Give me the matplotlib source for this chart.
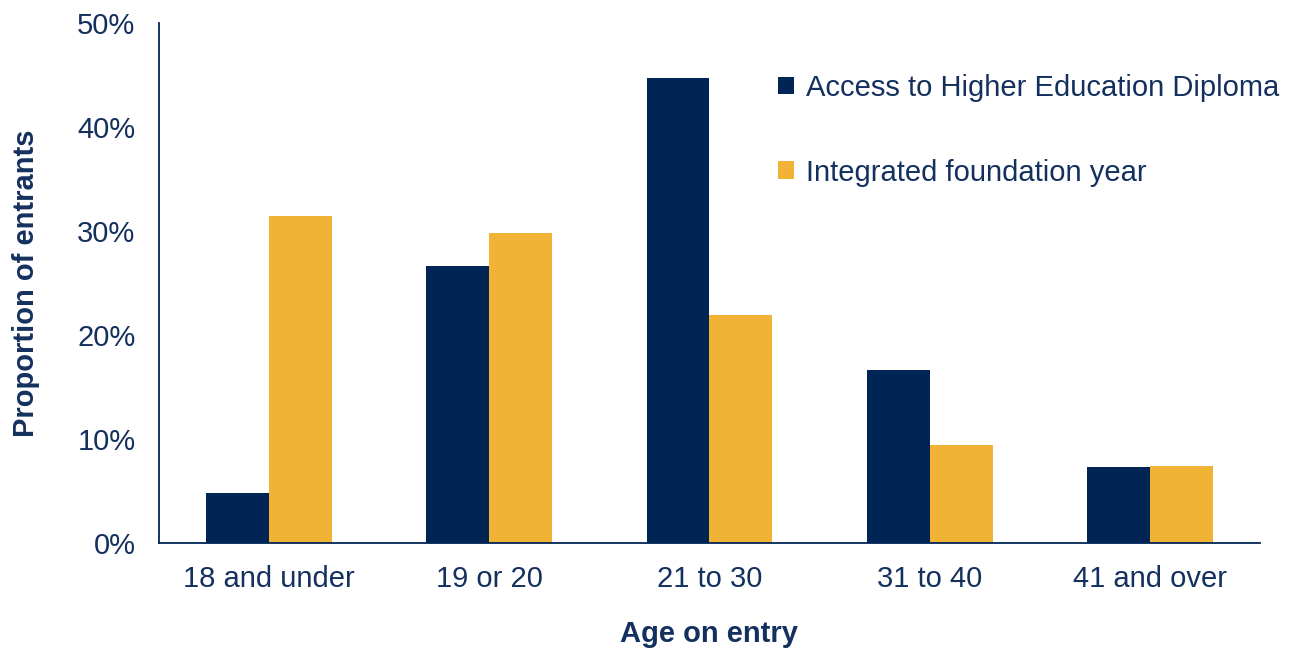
import numpy as np
import matplotlib.pyplot as plt
from matplotlib.ticker import PercentFormatter

# Age on entry, proportion of entrants (%)
categorii = ["18 and under", "19 or 20", "21 to 30", "31 to 40", "41 and over"]
access_he = [4.8, 26.6, 44.7, 16.6, 7.3]
foundation_year = [31.4, 29.8, 21.9, 9.4, 7.4]
etichete = ["Access to Higher Education Diploma", "Integrated foundation year"]

navy = "#002554"
gold = "#F0B336"
text_col = "#14305E"

plt.rcParams['font.family'] = ['Liberation Sans', 'DejaVu Sans']

fig = plt.figure(figsize=(12.96, 6.53), dpi=100)
ax = fig.add_axes([0.1227, 0.1685, 0.8495, 0.7963])

x = np.arange(len(categorii))
w = 0.286
ax.bar(x - w/2, access_he, w, color=navy, label=etichete[0])
ax.bar(x + w/2, foundation_year, w, color=gold, label=etichete[1])

ax.set_xlim(-0.5, len(categorii) - 0.5)
ax.set_ylim(0, 50)
ax.set_yticks(np.arange(0, 51, 10))
ax.yaxis.set_major_formatter(PercentFormatter(decimals=0))
ax.set_xticks(x)
ax.set_xticklabels(categorii)
ax.tick_params(length=0, labelsize=21, colors=text_col)
ax.tick_params(axis='x', pad=16)
ax.tick_params(axis='y', pad=17)

for s in ["top", "right"]:
    ax.spines[s].set_visible(False)
for s in ["left", "bottom"]:
    ax.spines[s].set_color(navy)
    ax.spines[s].set_linewidth(1.3)

ax.set_xlabel("Age on entry", fontsize=21, fontweight="bold", color=text_col, labelpad=19)
ax.set_ylabel("Proportion of entrants", fontsize=21, fontweight="bold", color=text_col, labelpad=27)

leg = ax.legend(loc="upper left", bbox_to_anchor=(0.552, 0.925), frameon=False,
                fontsize=21, handlelength=0.55, handleheight=0.55, handletextpad=0.4,
                labelspacing=1.95, borderaxespad=0)
for t in leg.get_texts():
    t.set_color(text_col)

fig.savefig("out.png", dpi=100)
